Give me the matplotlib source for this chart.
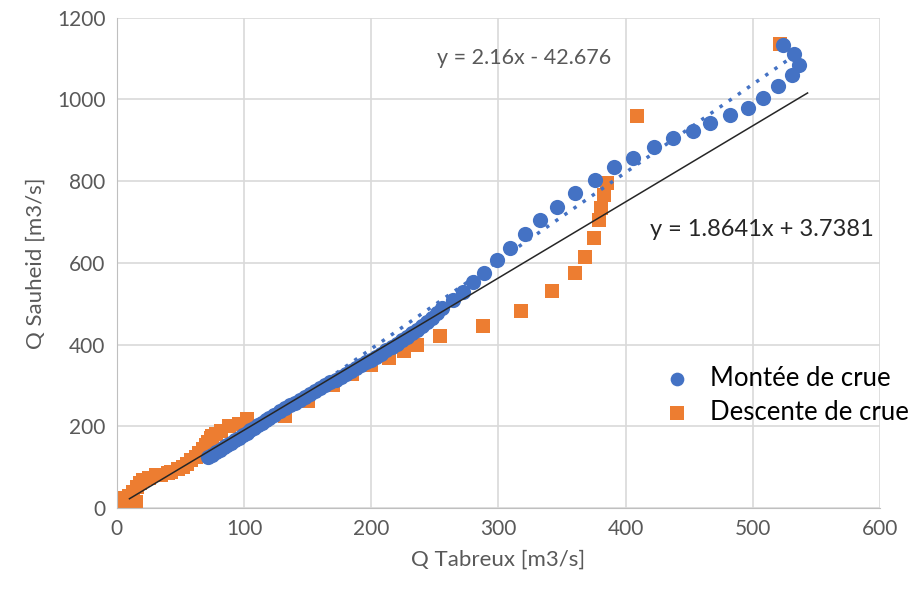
import matplotlib.pyplot as plt
import numpy as np

plt.rcParams['font.family'] = ['Lato', 'DejaVu Sans']

# Montee de crue (blue circles)
montee_x = [72, 75, 78, 81, 84, 87, 90, 93, 96, 99, 102, 105, 108, 111, 114, 117, 120,
            124, 128, 132, 136, 140, 144, 148, 152, 156, 160, 164, 168, 172, 176, 180,
            184, 188, 192, 196, 200, 204, 208, 212, 216, 220, 224, 228, 232, 236, 240,
            244, 248, 252,
            256, 264, 272, 280, 289, 299, 309, 321, 333, 346, 360, 376, 391, 406, 422,
            437, 453, 466, 482, 496, 508, 520, 531, 536, 532, 524]
montee_y = [125, 130, 136, 142, 148, 154, 160, 166, 172, 178, 184, 190, 196, 202, 208, 214, 220,
            228, 236, 244, 251, 258, 265, 272, 279, 286, 293, 300, 307, 314, 321, 328,
            335, 342, 349, 356, 363, 370, 378, 386, 394, 402, 410, 418, 427, 436, 446,
            456, 466, 478,
            490, 509, 528, 553, 576, 607, 636, 671, 705, 736, 771, 803, 834, 856, 883,
            905, 924, 942, 962, 978, 1003, 1033, 1060, 1085, 1112, 1134]

# Descente de crue (orange squares)
descente_x = [521, 409, 385, 383, 381, 379, 375, 368, 360, 342, 318, 288, 254, 236, 226,
              214, 200, 185, 170, 150, 132, 102, 96, 88, 82, 78, 75, 74, 72, 70, 68, 65, 62,
              58, 55, 52, 48, 43, 40, 35, 31, 25, 21, 18, 16, 13, 10, 9, 6, 8, 5, 12, 15]
descente_y = [1135, 960, 795, 765, 735, 705, 660, 615, 575, 530, 483, 445, 420, 398, 385,
              368, 350, 328, 300, 262, 226, 218, 205, 200, 188, 182, 175, 170, 162, 154, 145,
              134, 125, 117, 108, 101, 95, 89, 85, 80, 81, 72, 69, 60, 50, 40, 30, 20, 25,
              10, 5, 5, 15]

# trend lines (slope, intercept, x range)
trend_montee = (2.16, -42.676, 72, 536)
trend_all = (1.8641, 3.7381, 10, 543)

blue = '#4472C4'
orange = '#ED7D31'
grey = '#595959'

fig = plt.figure(figsize=(9.12, 5.94), dpi=100)
ax = fig.add_axes([0.128, 0.145, 0.837, 0.825])

ax.scatter(descente_x, descente_y, marker='s', s=110, color=orange, zorder=2,
           label='Descente de crue', linewidths=0)
ax.scatter(montee_x, montee_y, marker='o', s=120, color=blue, zorder=3,
           label='Montée de crue', linewidths=0)

a, b, x0, x1 = trend_montee
xs = np.array([x0, x1])
ax.plot(xs, a * xs + b, linestyle=(0, (1, 2.2)), color=blue, lw=2.5, zorder=4)
a, b, x0, x1 = trend_all
xs = np.array([x0, x1])
ax.plot(xs, a * xs + b, color='#262626', lw=1.1, zorder=5)

ax.text(252, 1102, 'y = 2.16x - 42.676', fontsize=15.5, color=grey, va='center')
ax.text(419, 681, 'y = 1.8641x + 3.7381', fontsize=17, color='#262626', va='center')

ax.set_xlim(0, 600)
ax.set_ylim(0, 1200)
ax.set_xticks(range(0, 601, 100))
ax.set_yticks(range(0, 1201, 200))
ax.grid(True, color='#d9d9d9', lw=1.2)
ax.set_axisbelow(True)
for s in ['top', 'right']:
    ax.spines[s].set_visible(False)
ax.spines['left'].set_color('#bfbfbf')
ax.spines['bottom'].set_color('#bfbfbf')
ax.tick_params(length=0, labelsize=15, labelcolor=grey, pad=8)

ax.set_xlabel('Q Tabreux [m3/s]', fontsize=16, color=grey, labelpad=8)
ax.set_ylabel('Q Sauheid [m3/s]', fontsize=16, color=grey, labelpad=8)

h, l = ax.get_legend_handles_labels()
ax.legend(h[::-1], l[::-1], loc='upper left', bbox_to_anchor=(0.67, 0.337), frameon=False,
          fontsize=18.5, handletextpad=0.3, labelspacing=0.35, markerscale=0.9)

plt.savefig('out.png', dpi=100)
